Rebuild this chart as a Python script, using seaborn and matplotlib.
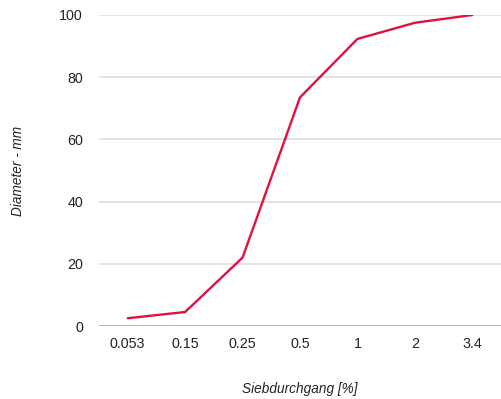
import pandas as pd
import matplotlib.pyplot as plt
import seaborn as sns

sieve = ['0.053', '0.15', '0.25', '0.5', '1', '2', '3.4']
passing = [2.5, 4.5, 22, 73.5, 92.3, 97.5, 100]

df = pd.DataFrame({'sieve': sieve, 'passing': passing})

sns.set_style('white')
plt.rcParams['font.family'] = ['Liberation Sans', 'DejaVu Sans']

fig = plt.figure(figsize=(5.01, 3.99), dpi=100)
ax = fig.add_axes([99 / 501, 1 - 326 / 399, 1 - 99 / 501, (326 - 15) / 399])

sns.lineplot(x='sieve', y='passing', data=df, color='#e0103f', linewidth=1.7, ax=ax)

ax.set_xlim(-0.5, len(sieve) - 0.5)
ax.set_ylim(0, 100)
ax.set_yticks([0, 20, 40, 60, 80, 100])
ax.grid(axis='y', color='#dddddd', linewidth=1.2)
ax.axhline(0, color='#bbbbbb', linewidth=1.5, zorder=1)
for s in ax.spines.values():
    s.set_visible(False)
ax.tick_params(axis='both', length=0, labelsize=10.3, colors='#222222')
ax.tick_params(axis='x', pad=8)
ax.tick_params(axis='y', pad=11.5)

ax.set_xlabel('Siebdurchgang [%]', fontstyle='italic', fontsize=9.8, color='#222222', labelpad=22)
ax.set_ylabel('Diameter - mm', fontstyle='italic', fontsize=9.8, color='#222222', labelpad=25)
ax.set_axisbelow(True)

plt.savefig('out.png', dpi=100)
